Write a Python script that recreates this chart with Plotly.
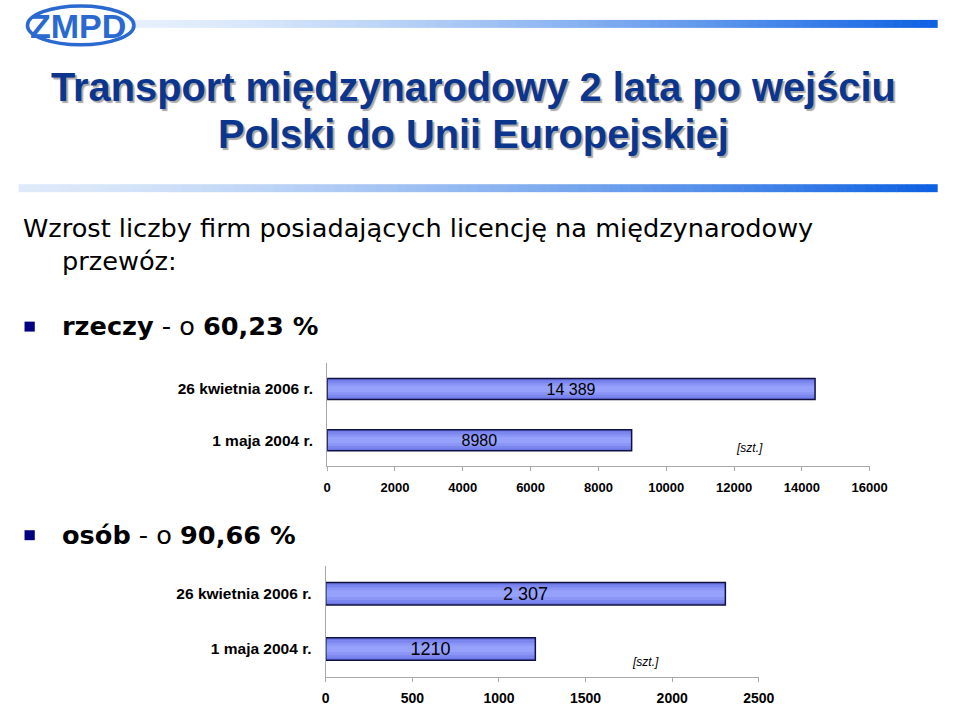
import plotly.graph_objects as go

W, H = 960, 706

# ---------------- data ----------------
categories = ["1 maja 2004 r.", "26 kwietnia 2006 r."]
rzeczy_values = [8980, 14389]
rzeczy_labels = ["8980", "14 389"]
osob_values = [1210, 2307]
osob_labels = ["1210", "2 307"]
rzeczy_ticks = [0, 2000, 4000, 6000, 8000, 10000, 12000, 14000, 16000]
osob_ticks = [0, 500, 1000, 1500, 2000, 2500]
unit_label = "[szt.]"

title_lines = ["Transport międzynarodowy 2 lata po wejściu", "Polski do Unii Europejskiej"]
intro_line1 = "Wzrost liczby firm posiadających licencję na międzynarodowy"
intro_line2 = "przewóz:"
bullet1 = "<b>rzeczy</b> - o <b>60,23 %</b>"
bullet2 = "<b>osób</b> - o <b>90,66 %</b>"


def px(x):
    return x / W


def py(y):
    return 1 - y / H


fig = go.Figure()

BAR_W = 0.41
layers = [  # (relative width, colour) - fake vertical gradient
    (1.00, "#6d76e6"),
    (0.80, "#7c86ef"),
    (0.55, "#8a95f6"),
    (0.30, "#96a1fb"),
]


def add_bars(values, labels, xa, ya, fsize):
    for rel, col in layers:
        fig.add_trace(go.Bar(
            y=categories, x=values, orientation="h", width=BAR_W * rel,
            marker=dict(color=col, line=dict(width=0)),
            xaxis=xa, yaxis=ya, hoverinfo="skip", showlegend=False))
    fig.add_trace(go.Bar(
        y=categories, x=values, orientation="h", width=BAR_W,
        marker=dict(color="rgba(0,0,0,0)", line=dict(color="#101040", width=1.5)),
        text=labels, textposition="inside", insidetextanchor="middle",
        constraintext="none",
        textfont=dict(family="Liberation Sans, Arial", size=fsize, color="#000000"),
        xaxis=xa, yaxis=ya, showlegend=False))


add_bars(rzeczy_values, rzeczy_labels, "x", "y", 16)
add_bars(osob_values, osob_labels, "x2", "y2", 18)

axis_common = dict(showgrid=False, zeroline=False, showline=True,
                   linecolor="#a8a8a8", linewidth=1)
bold_cats = ["<b>%s</b>" % c for c in categories]

fig.update_layout(
    width=W, height=H,
    margin=dict(l=0, r=0, t=0, b=0),
    paper_bgcolor="white", plot_bgcolor="white",
    barmode="overlay",
    showlegend=False,
    xaxis=dict(domain=[px(330.7), px(886)], range=[0, 16000], anchor="y",
               tickvals=rzeczy_ticks, ticktext=["<b>%d</b>" % v for v in rzeczy_ticks],
               ticks="outside", ticklen=4, tickcolor="#a8a8a8",
               ticklabelstandoff=6,
               tickfont=dict(family="Liberation Sans, Arial", size=13, color="#000"),
               **axis_common),
    yaxis=dict(domain=[py(467.7), py(365)], range=[-0.5, 1.5], anchor="x",
               type="category", tickvals=categories, ticktext=bold_cats,
               ticks="", ticklabelstandoff=10,
               tickfont=dict(family="Liberation Sans, Arial", size=15.5, color="#000"),
               **axis_common),
    xaxis2=dict(domain=[px(329.3), px(772.5)], range=[0, 2500], anchor="y2",
                tickvals=osob_ticks, ticktext=["<b>%d</b>" % v for v in osob_ticks],
                ticks="outside", ticklen=4, tickcolor="#a8a8a8",
                ticklabelstandoff=5,
                tickfont=dict(family="Liberation Sans, Arial", size=14, color="#000"),
                **axis_common),
    yaxis2=dict(domain=[py(679.5), py(568.5)], range=[-0.5, 1.5], anchor="x2",
                type="category", tickvals=categories, ticktext=bold_cats,
                ticks="", ticklabelstandoff=10,
                tickfont=dict(family="Liberation Sans, Arial", size=15.5, color="#000"),
                **axis_common),
)

shapes = []


def gradient_line(x0, x1, y0, y1, c0, c1, n=90, gamma=1.4):
    for i in range(n):
        t = (i + 0.5) / n
        tt = t ** gamma
        col = tuple(int(round(c0[k] + (c1[k] - c0[k]) * tt)) for k in range(3))
        xa = x0 + (x1 - x0) * i / n
        xb = x0 + (x1 - x0) * (i + 1) / n + 0.6
        shapes.append(dict(type="rect", xref="paper", yref="paper",
                           x0=px(xa), x1=px(xb), y0=py(y1), y1=py(y0),
                           fillcolor="rgb(%d,%d,%d)" % col, line=dict(width=0),
                           layer="below"))


gradient_line(130, 955, 20, 28, (230, 240, 252), (12, 96, 226))
gradient_line(15, 955, 185, 193, (222, 234, 250), (12, 96, 226))

# logo ring
shapes.append(dict(type="circle", xref="paper", yref="paper",
                   x0=px(24), x1=px(133), y0=py(45), y1=py(6),
                   line=dict(color="#2a6ad0", width=3.5), fillcolor="rgba(0,0,0,0)"))

# bullets
for yc in (328, 537.5):
    shapes.append(dict(type="rect", xref="paper", yref="paper",
                       x0=px(21), x1=px(31.5), y0=py(yc + 5), y1=py(yc - 5),
                       fillcolor="#000080", line=dict(width=0)))

fig.update_layout(shapes=shapes)

ann = []
# logo text
ann.append(dict(x=px(76), y=py(26), xref="paper", yref="paper", text="<b>ZMPD</b>",
                showarrow=False, xanchor="center", yanchor="middle",
                font=dict(family="Liberation Sans, Arial", size=34, color="#2a6ad0")))

# title with shadow
for i, line in enumerate(title_lines):
    yc = 87 + i * 48
    ann.append(dict(x=px(480), y=py(yc), xref="paper", yref="paper",
                    text="<b>%s</b>" % line, showarrow=False,
                    xanchor="center", yanchor="middle",
                    font=dict(family="Liberation Sans, Arial", size=39.8, color="#0c368e",
                              shadow="2px 2px 1px #a8a8a8")))

body_font = dict(family="DejaVu Sans, Verdana", size=25.6, color="#000000")
ann.append(dict(x=px(17), y=py(229), xref="paper", yref="paper", text=intro_line1,
                showarrow=False, xanchor="left", yanchor="middle", align="left", font=body_font))
ann.append(dict(x=px(57), y=py(262), xref="paper", yref="paper", text=intro_line2,
                showarrow=False, xanchor="left", yanchor="middle", align="left", font=body_font))
ann.append(dict(x=px(57), y=py(327), xref="paper", yref="paper", text=bullet1,
                showarrow=False, xanchor="left", yanchor="middle", align="left", font=body_font))
ann.append(dict(x=px(57), y=py(537), xref="paper", yref="paper", text=bullet2,
                showarrow=False, xanchor="left", yanchor="middle", align="left", font=body_font))

# unit labels
ann.append(dict(x=px(763), y=py(450), xref="paper", yref="paper", text="<i>%s</i>" % unit_label,
                showarrow=False, xanchor="center", yanchor="middle",
                font=dict(family="Liberation Sans, Arial", size=12, color="#000")))
ann.append(dict(x=px(657), y=py(665), xref="paper", yref="paper", text="<i>%s</i>" % unit_label,
                showarrow=False, xanchor="center", yanchor="middle",
                font=dict(family="Liberation Sans, Arial", size=12, color="#000")))

fig.update_layout(annotations=ann)

# page fills the 960x706 window exactly (no default body margin / scrollbars)
fig.write_html("out.html", config={"displayModeBar": False},
               post_script="document.body.style.margin='0';document.body.style.overflow='hidden';")
